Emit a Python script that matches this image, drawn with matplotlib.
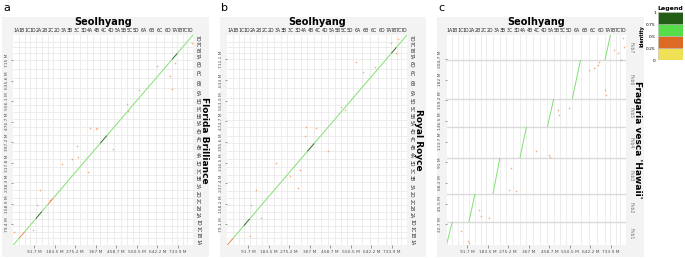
import matplotlib
matplotlib.use("Agg")
import matplotlib.pyplot as plt
from matplotlib.patches import Rectangle
import numpy as np

# ------------------------------------------------------------------ #
# Data (Mb)
# ------------------------------------------------------------------ #
chroms = ["1A", "1B", "1C", "1D", "2A", "2B", "2C", "2D", "3A", "3B", "3C", "3D",
          "4A", "4B", "4C", "4D", "5A", "5B", "5C", "5D", "6A", "6B", "6C", "6D",
          "7A", "7B", "7C", "7D"]
seol_len = [25.7, 24.1, 23.2, 26.6, 27.5, 25.7, 24.6, 29.7, 31.0, 29.5, 28.9, 31.2,
            28.9, 30.6, 29.8, 32.9, 28.2, 27.7, 25.8, 29.3, 37.0, 37.8, 36.5, 35.1,
            23.6, 23.1, 21.6, 25.1]
fb_len = [26.1, 24.5, 23.8, 27.0, 28.0, 26.2, 25.0, 30.1, 31.5, 29.9, 29.2, 31.6,
          29.3, 31.0, 30.2, 33.3, 28.5, 28.0, 26.2, 29.7, 37.4, 38.1, 36.9, 35.5,
          23.9, 23.4, 22.0, 25.4]
rr_len = [25.9, 24.3, 23.5, 26.8, 27.8, 25.9, 24.8, 29.9, 31.3, 29.7, 29.0, 31.4,
          29.1, 30.8, 30.0, 33.1, 28.3, 27.9, 26.0, 29.5, 37.2, 37.9, 36.7, 35.3,
          23.8, 23.2, 21.8, 25.2]
fvb_names = ["Fvb1", "Fvb2", "Fvb3", "Fvb4", "Fvb5", "Fvb6", "Fvb7"]
fvb_len = [25.3, 30.8, 39.6, 34.1, 30.8, 42.9, 27.5]
fvb_match = ["1A", "2A", "3A", "4A", "5A", "6A", "7A"]

# identity of each collinear chromosome block
ident_fb = [0.6, 0.45, 0.7, 0.6, 0.85, 0.7, 0.45, 0.7, 0.7, 0.7, 0.6, 0.7,
            0.7, 0.7, 0.85, 0.7, 0.6, 0.7, 0.7, 0.7, 0.7, 0.7, 0.7, 0.6,
            0.85, 0.7, 0.7, 0.7]
ident_rr = [0.45, 0.7, 0.6, 0.85, 0.7, 0.6, 0.7, 0.7, 0.7, 0.7, 0.6, 0.7,
            0.7, 0.85, 0.7, 0.7, 0.7, 0.6, 0.7, 0.7, 0.7, 0.7, 0.6, 0.7,
            0.7, 0.85, 0.7, 0.7]
ident_fvb = [0.7, 0.7, 0.7, 0.7, 0.7, 0.7, 0.7]

# scattered off-diagonal hits (x = Seolhyang Mb, y = query Mb)
dots_fb_x = [720, 698, 707, 795, 506, 511, 341, 373, 284, 217, 261, 333, 288, 119,
             105, 163, 87, 3, 444, 368, 640, 560]
dots_fb_y = [702, 652, 603, 779, 545, 518, 453, 453, 384, 315, 334, 284, 342, 211,
             154, 173, 58, 50, 372, 449, 690, 600]
dots_rr_x = [729, 751, 573, 604, 658, 506, 524, 350, 395, 217, 324, 280, 315, 448,
             346, 128, 105, 101, 150, 760]
dots_rr_y = [775, 737, 702, 664, 683, 530, 518, 453, 449, 315, 288, 265, 219, 361,
             418, 211, 154, 35, 104, 790]
dots_fvb_x = [658, 675, 680, 707, 711, 635, 747, 764, 786, 791, 778, 497, 502, 546,
              457, 461, 399, 288, 279, 310, 154, 189, 145, 96, 100, 65]
dots_fvb_y = [195, 198, 201, 170, 165, 193, 215, 211, 228, 218, 204, 149, 143, 151,
              99, 97, 103, 85, 61, 59, 32, 30, 39, 4, 2, 15]

x_ticks = [91.7, 183.5, 275.2, 367.0, 458.7, 550.5, 642.2, 733.9]
y_ticks_fb = [79.4, 158.9, 238.3, 317.8, 397.2, 476.7, 556.1, 635.6, 715.0]
y_ticks_rr = [79.1, 158.2, 237.4, 316.5, 395.6, 474.7, 553.9, 633.0, 712.1]
y_ticks_fvb = [22.7, 45.5, 68.2, 91.0, 113.7, 136.5, 159.2, 182.0, 204.7]

legend_breaks = [0, 0.25, 0.5, 0.75, 1]
legend_colors = ["#efe055", "#dd6a24", "#57dc4a", "#235e17"]

W, H = 685, 258
fig = plt.figure(figsize=(W / 100, H / 100), dpi=100)
fig.patch.set_facecolor("white")


def fbox(x0, y0, x1, y1):
    return [x0 / W, 1 - y1 / H, (x1 - x0) / W, (y1 - y0) / H]


def ident_color(v):
    if v >= 0.75:
        return "#2f6e22"
    if v >= 0.5:
        return "#80e070"
    if v >= 0.25:
        return "#e58a4a"
    return legend_colors[0]


def panel(bg, box, letter, qnames, qlen, ylabel, yticks, diag, dx, dy, right_color):
    # light grey panel background, behind the axes
    bgax = fig.add_axes(fbox(*bg), zorder=-5)
    bgax.set_facecolor("#f3f3f3")
    bgax.set_xticks([])
    bgax.set_yticks([])
    for s in bgax.spines.values():
        s.set_visible(False)
    fig.text(bg[0] / W + 0.002, 1 - 8 / H, letter, fontsize=8, va="center", ha="left")

    ax = fig.add_axes(fbox(*box))
    ax.set_facecolor("white")
    sx = np.concatenate([[0], np.cumsum(seol_len)])
    qy = np.concatenate([[0], np.cumsum(qlen)])
    ax.set_xlim(0, sx[-1])
    ax.set_ylim(0, qy[-1])
    for v in sx[1:-1]:
        ax.axvline(v, color="#e6e6e6", lw=0.5, zorder=1)
    for v in qy[1:-1]:
        if len(qlen) < 10:
            ax.axhline(v, color="#dadada", lw=1.0, zorder=1)
        else:
            ax.axhline(v, color="#e6e6e6", lw=0.5, zorder=1)

    # collinear blocks
    for i, v in enumerate(diag):
        if len(qlen) < 10:
            j = chroms.index(fvb_match[i])
            xs, xe = sx[j], sx[j + 1]
        else:
            xs, xe = sx[i], sx[i + 1]
        ax.plot([xs, xe], [qy[i], qy[i + 1]], color=ident_color(v), lw=0.7,
                solid_capstyle="butt", zorder=3)
    ax.scatter(dx, dy, s=1.4, color="#eea070", alpha=0.85, lw=0, zorder=2)

    for s in ax.spines.values():
        s.set_visible(False)
    ax.set_xticks(x_ticks)
    ax.set_xticklabels([f"{t:g} M" for t in x_ticks], fontsize=3.2, color="#555555")
    ax.set_yticks(yticks)
    ax.set_yticklabels([f"{t:g} M" for t in yticks], fontsize=3.2, color="#555555",
                       rotation=90, va="center")
    ax.tick_params(length=1.8, width=0.4, color="#555555", pad=1.5)

    top = ax.secondary_xaxis("top")
    top.set_xticks((sx[:-1] + sx[1:]) / 2)
    top.set_xticklabels(chroms, fontsize=3.3, color="#222222")
    top.tick_params(length=0, pad=1.5)
    top.spines["top"].set_visible(False)

    right = ax.secondary_yaxis("right")
    right.set_yticks((qy[:-1] + qy[1:]) / 2)
    right.set_yticklabels(qnames, fontsize=3.3, color=right_color, rotation=-90,
                          va="center")
    right.tick_params(length=0, pad=1.5)
    right.spines["right"].set_visible(False)

    ax.text(0.5, 1.048, "Seolhyang", transform=ax.transAxes, ha="center",
            va="baseline", fontsize=7, fontweight="bold")
    ax.text(1.062, 0.5, ylabel, transform=ax.transAxes, ha="center", va="center",
            rotation=-90, fontsize=6.5, fontweight="bold")
    return ax


panel((2, 17, 209, 257), (13.4, 35, 193, 245), "a", chroms, fb_len,
      "Florida Brilliance", y_ticks_fb, ident_fb, dots_fb_x, dots_fb_y, "#222222")
panel((220, 17, 426, 257), (227.4, 35, 407, 245), "b", chroms, rr_len,
      "Royal Royce", y_ticks_rr, ident_rr, dots_rr_x, dots_rr_y, "#222222")
panel((437, 17, 644, 257), (446.5, 35, 626, 245), "c", fvb_names, fvb_len,
      "Fragaria vesca 'Hawaii'", y_ticks_fvb, ident_fvb, dots_fvb_x, dots_fvb_y,
      "#777777")

# legend
lax = fig.add_axes(fbox(658, 12, 683, 60))
for k in range(4):
    lax.add_patch(Rectangle((0, legend_breaks[k]), 1, 0.25, facecolor=legend_colors[k],
                            edgecolor="#bbbbbb", lw=0.4))
lax.set_xlim(0, 1)
lax.set_ylim(0, 1)
lax.set_xticks([])
lax.set_yticks(legend_breaks)
lax.set_yticklabels([f"{b:g}" for b in legend_breaks], fontsize=3.2)
lax.tick_params(axis="y", length=0, pad=1.5)
for s in lax.spines.values():
    s.set_visible(False)
lax.set_title("Legend", fontsize=4.5, fontweight="bold", pad=1.5)
lax.set_ylabel("Identity", fontsize=3.5, fontweight="bold", labelpad=1)

fig.savefig("out.png", dpi=100)
